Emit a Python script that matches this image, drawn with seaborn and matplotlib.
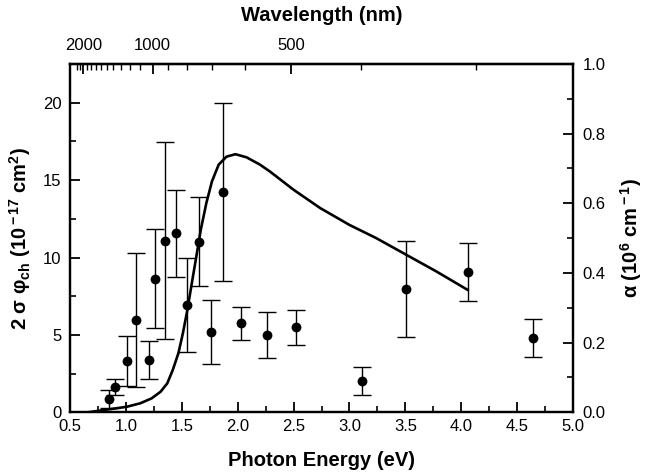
import numpy as np
import pandas as pd
import matplotlib
matplotlib.use("Agg")
import matplotlib.pyplot as plt
import seaborn as sns
from matplotlib.ticker import MultipleLocator, FixedLocator, FormatStrFormatter

# ---- data ----
energy_pts = [0.85, 0.90, 1.01, 1.09, 1.21, 1.26, 1.35, 1.45, 1.55, 1.65, 1.76, 1.87,
              2.03, 2.26, 2.52, 3.11, 3.51, 4.06, 4.64]
sigma_phi = [0.85, 1.65, 3.32, 5.97, 3.38, 8.64, 11.07, 11.57, 6.94, 11.03, 5.17, 14.24,
             5.75, 5.00, 5.49, 2.02, 7.99, 9.07, 4.80]
sigma_err = [0.60, 0.52, 1.63, 4.33, 1.25, 3.22, 6.36, 2.80, 3.06, 2.87, 2.07, 5.77,
             1.08, 1.47, 1.12, 0.90, 3.10, 1.85, 1.24]

energy_curve = [0.66, 0.86, 1.01, 1.13, 1.23, 1.31, 1.37, 1.42, 1.47, 1.51, 1.55, 1.59,
                1.63, 1.67, 1.72, 1.77, 1.83, 1.90, 1.98, 2.08, 2.20, 2.29, 2.50, 2.74,
                3.00, 3.24, 3.51, 3.78, 4.06]
alpha_curve = [0.0, 0.009, 0.016, 0.026, 0.040, 0.059, 0.083, 0.122, 0.170, 0.227, 0.294,
               0.371, 0.447, 0.524, 0.601, 0.663, 0.711, 0.734, 0.741, 0.732, 0.711,
               0.691, 0.639, 0.586, 0.538, 0.500, 0.452, 0.404, 0.351]

wl_major = [2000, 1000, 500]
wl_minor = [300, 400, 600, 700, 800, 900, 1100, 1200, 1300, 1400, 1500, 1600, 1700,
            1800, 1900, 2100, 2200]

pts = pd.DataFrame({"E": energy_pts, "s": sigma_phi, "err": sigma_err})
curve = pd.DataFrame({"E": energy_curve, "a": alpha_curve})

sns.set_style("ticks", {"axes.edgecolor": "black", "text.color": "black",
                        "axes.labelcolor": "black", "xtick.color": "black",
                        "ytick.color": "black"})
plt.rcParams["font.family"] = ["Liberation Sans", "DejaVu Sans"]
plt.rcParams["mathtext.fontset"] = "custom"
plt.rcParams["mathtext.rm"] = "Liberation Sans:bold"
plt.rcParams["mathtext.bf"] = "Liberation Sans:bold"
plt.rcParams["mathtext.it"] = "Liberation Sans:bold"

fig = plt.figure(figsize=(6.45, 4.74), dpi=100)
ax = fig.add_axes([70/645, 1-412.3/474, 503/645, (412.3-64)/474])

ax.errorbar(pts["E"], pts["s"], yerr=pts["err"], fmt="none", ecolor="black",
            elinewidth=1.0, capsize=6.5, capthick=1.0, zorder=2)
sns.scatterplot(data=pts, x="E", y="s", ax=ax, color="black", s=50,
                edgecolor="black", linewidth=0, zorder=3, legend=False)

ax2 = ax.twinx()
sns.lineplot(data=curve, x="E", y="a", ax=ax2, color="black", linewidth=1.9,
             sort=False, legend=False)

ax.set_xlim(0.5, 5.0)
ax.set_ylim(0, 22.5)
ax2.set_ylim(0, 1.0)

ax.xaxis.set_major_locator(MultipleLocator(0.5))
ax.xaxis.set_minor_locator(MultipleLocator(0.25))
ax.xaxis.set_major_formatter(FormatStrFormatter("%.1f"))
ax.yaxis.set_major_locator(MultipleLocator(5))
ax.yaxis.set_minor_locator(MultipleLocator(2.5))
ax2.yaxis.set_major_locator(MultipleLocator(0.2))
ax2.yaxis.set_minor_locator(MultipleLocator(0.1))
ax2.yaxis.set_major_formatter(FormatStrFormatter("%.1f"))

for a in (ax, ax2):
    for sp in a.spines.values():
        sp.set_linewidth(1.6)
        sp.set_color("black")
        sp.set_visible(True)
    a.tick_params(which="major", direction="in", length=7, width=1.3, labelsize=12,
                  color="black", labelcolor="black")
    a.tick_params(which="minor", direction="in", length=4, width=1.2, color="black")

ax.tick_params(axis="x", which="both", top=False, pad=5)
ax.tick_params(axis="y", which="both", right=False, pad=6)
ax2.tick_params(axis="y", which="both", left=False, right=True, pad=7)

K = 1240.0
sec = ax.secondary_xaxis("top", functions=(lambda e: K / np.maximum(e, 1e-6),
                                            lambda l: K / np.maximum(l, 1e-6)))
sec.xaxis.set_major_locator(FixedLocator(wl_major))
sec.xaxis.set_minor_locator(FixedLocator(wl_minor))
sec.xaxis.set_major_formatter(FormatStrFormatter("%d"))
sec.tick_params(which="major", direction="in", length=7, width=1.3, labelsize=12, pad=8,
                color="black", labelcolor="black")
sec.tick_params(which="minor", direction="in", length=4, width=1.0, color="black")
sec.spines["top"].set_linewidth(1.6)
sec.spines["top"].set_color("black")
sec.set_xlabel("Wavelength (nm)", fontsize=14.5, fontweight="bold", labelpad=12,
               color="black")

ax.set_xlabel("Photon Energy (eV)", fontsize=14.5, fontweight="bold", labelpad=12,
              color="black")
ax.set_ylabel(r"2 σ φ$_{\rm ch}$ (10$^{\rm -17}$ cm$^{\rm 2}$)", fontsize=14.5,
              fontweight="bold", labelpad=7, color="black")
ax2.set_ylabel(r"α (10$^{\rm 6}$ cm$^{\rm -1}$)", fontsize=14.5, fontweight="bold",
               labelpad=9, color="black")

ax.set_zorder(ax2.get_zorder() + 1)
ax.patch.set_visible(False)

fig.savefig("out.png", dpi=100)
